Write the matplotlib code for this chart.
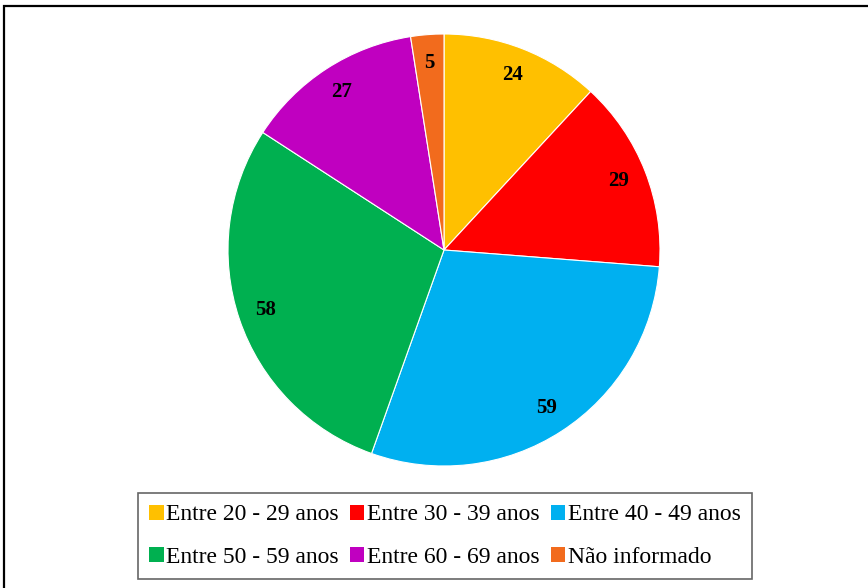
import matplotlib.pyplot as plt
from matplotlib.patches import Rectangle

# ── Datos ─────────────────────────────────────────────────────────────────────
labels = ["Entre 20 - 29 anos", "Entre 30 - 39 anos", "Entre 40 - 49 anos",
          "Entre 50 - 59 anos", "Entre 60 - 69 anos", "Não informado"]
values = [24, 29, 59, 58, 27, 5]
colors = ["#FFC000", "#FF0000", "#00B0F0", "#00B050", "#C000C0", "#F26B1D"]

plt.rcParams["font.family"] = ["Liberation Serif", "DejaVu Serif"]

W, H = 868, 588
fig = plt.figure(figsize=(W / 100, H / 100), dpi=100)

# marco exterior
fig.patches.append(Rectangle((4 / W, -0.01), 1.0, (H - 6) / H + 0.01,
                             transform=fig.transFigure, fill=False,
                             edgecolor="black", linewidth=1.6))

cx, cy, r = 444, 250, 216
ax = fig.add_axes([(cx - r) / W, (H - cy - r) / H, 2 * r / W, 2 * r / H])
total = sum(values)
wedges, _, autotexts = ax.pie(
    values, colors=colors, startangle=90, counterclock=False, radius=1,
    autopct=lambda p: f"{round(p * total / 100)}", pctdistance=0.87,
    wedgeprops=dict(edgecolor="white", linewidth=0.8),
    textprops=dict(fontsize=15, fontweight="bold", color="black"),
)
ax.set_xlim(-1, 1)
ax.set_ylim(-1, 1)
ax.set_aspect("equal")
ax.axis("off")

# matplotlib rellena la leyenda por columnas; reordenar para que vaya por filas
order = [0, 3, 1, 4, 2, 5]
leg = fig.legend([wedges[i] for i in order], [labels[i] for i in order],
                 ncol=3, loc="center",
                 bbox_to_anchor=(445 / W, 1 - 536 / H), fontsize=17,
                 frameon=True, fancybox=False, edgecolor="#404040",
                 handlelength=0.6, handleheight=0.6, handletextpad=0.1,
                 columnspacing=0.5, labelspacing=0.9, borderpad=0.5)
leg.get_frame().set_linewidth(1.2)
for h in leg.legend_handles:
    h.set_edgecolor("none")

fig.savefig("out.png", dpi=100)
